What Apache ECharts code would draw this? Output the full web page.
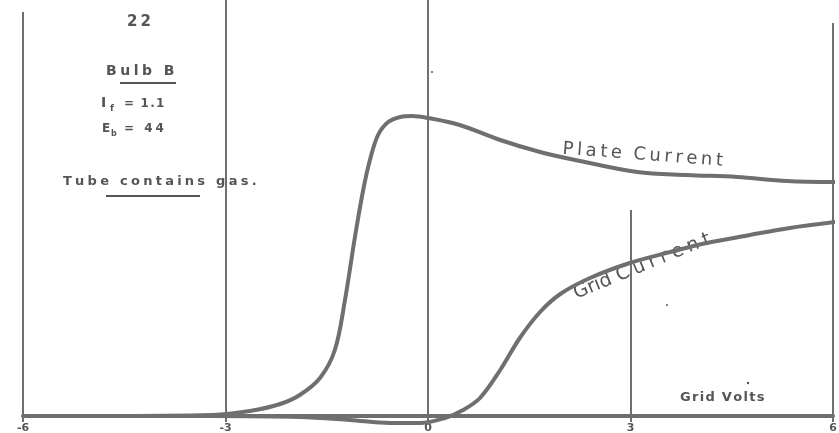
<!DOCTYPE html>
<html>
<head>
<meta charset="utf-8">
<script src="https://cdn.jsdelivr.net/npm/echarts@6/dist/echarts.min.js"></script>
<style>html,body{margin:0;padding:0;background:#fff;}#c{width:839px;height:433px;}</style>
</head>
<body>
<div id="c"></div>
<script>
// Grid Volts (x) vs current (arbitrary units, y)
const tickValues = [-6, -3, 0, 3, 6];
const tickLabels = ['-6', '-3', '0', '3', '6'];
const gridTop = [101, 104, 104, 51.5, 98.25];
const gridBottom = 0;

const plateX = [-5.96, -4.86, -3.19, -2.64, -2.19, -1.90, -1.60, -1.38, -1.23, -1.08, -0.96, -0.86, -0.74, -0.59, -0.41, -0.24, 0, 0.47, 1.07, 1.66, 2.25, 3.10, 3.84, 4.58, 5.32, 6.04];
const plateY = [0, 0, 0.25, 1.25, 3, 5.25, 9.5, 16.5, 29, 45, 56.5, 64, 70.25, 73.5, 74.75, 75, 74.5, 72.75, 69, 66, 63.75, 61, 60.25, 59.75, 58.75, 58.5];

const gridCurX = [-5.96, -3.19, -1.90, -1.16, -0.56, -0.12, 0.25, 0.52, 0.77, 1.07, 1.36, 1.66, 1.96, 2.40, 2.99, 3.59, 4.13, 4.77, 5.36, 6.04];
const gridCurY = [0, 0, -0.25, -1, -1.75, -1.75, -0.5, 1.5, 4.5, 11.5, 19.5, 26, 30.5, 34.5, 38.25, 41, 43.25, 45.25, 47, 48.5];

const ink = '#6f6f6f';
const textInk = '#555';
const hand = 'DejaVu Sans';
const sp = function (s, gap) { return s.split('').join(gap); };
const HAIR = '\u200A', THIN = '\u2009', FOUR = '\u2005', THREE = '\u2004';

const chart = echarts.init(document.getElementById('c'), null, {renderer: 'canvas'});

function zip(xs, ys) { return xs.map((x, i) => [x, ys[i]]); }

function txt(x, y, s, size, opts) {
  return Object.assign({
    type: 'text', x: x, y: y,
    style: Object.assign({text: s, fill: textInk, fontSize: size, fontFamily: hand, fontWeight: 'bold', align: 'left', verticalAlign: 'top'}, (opts && opts.style) || {})
  }, (opts && opts.el) || {});
}
function uline(x1, y1, x2, y2) {
  return {type: 'line', shape: {x1: x1, y1: y1, x2: x2, y2: y2}, style: {stroke: textInk, lineWidth: 2}};
}

chart.setOption({
  animation: false,
  backgroundColor: '#ffffff',
  grid: {left: 23, right: 6, top: 0, bottom: 17, outerBoundsMode: 'none', containLabel: false},
  xAxis: {
    type: 'value', min: -6, max: 6, interval: 3,
    axisLine: {onZero: false, lineStyle: {color: ink, width: 4}},
    axisTick: {show: true, length: 6, inside: false, lineStyle: {color: ink, width: 2}},
    splitLine: {show: false},
    axisLabel: {
      color: textInk, fontSize: 11, fontWeight: 'bold', fontFamily: hand, margin: 7,
      formatter: function (v) { const i = tickValues.indexOf(v); return i >= 0 ? tickLabels[i] : ''; }
    }
  },
  yAxis: {type: 'value', min: 0, max: 104, show: false, splitLine: {show: false}},
  series: [
    {
      type: 'line', data: [], z: 1,
      markLine: {
        silent: true, symbol: 'none', label: {show: false},
        lineStyle: {color: ink, width: 2, type: 'solid'},
        data: tickValues.map((x, i) => [{coord: [x, gridBottom]}, {coord: [x, gridTop[i]]}])
      }
    },
    {
      name: 'Plate Current', type: 'line', smooth: 0.35, showSymbol: false, z: 3, clip: false,
      lineStyle: {color: ink, width: 4}, data: zip(plateX, plateY)
    },
    {
      name: 'Grid Current', type: 'line', smooth: 0.35, showSymbol: false, z: 3, clip: false,
      lineStyle: {color: ink, width: 4}, data: zip(gridCurX, gridCurY)
    }
  ],
  graphic: [
    txt(127, 15, sp('22', THIN), 15),
    txt(106, 64, sp('Bulb B', FOUR), 14),
    uline(120, 83, 176, 83),
    txt(101, 96, 'I', 14),
    txt(110, 104, 'f', 9),
    txt(124, 98, sp('= 1.1', HAIR), 12),
    txt(102, 123, 'E', 12),
    txt(111, 130, 'b', 8),
    txt(124, 123, sp('= 44', FOUR), 12),
    txt(63, 175, sp('Tube contains gas.', FOUR), 13),
    uline(106, 196, 200, 196),
    txt(562, 158, sp('Plate', THIN) + '  ' + sp('Current', THIN), 18, {style: {verticalAlign: 'bottom', fontWeight: 'normal'}, el: {rotation: -0.075}}),
    txt(578, 303, 'Grid ' + sp('Current', FOUR), 19, {style: {verticalAlign: 'bottom', fontWeight: 'normal'}, el: {rotation: 0.39}}),
    txt(680, 391, sp('Grid Volts', HAIR), 13),
    {type: 'circle', shape: {cx: 432, cy: 72, r: 1}, style: {fill: textInk}},
    {type: 'circle', shape: {cx: 667, cy: 305, r: 1}, style: {fill: textInk}},
    {type: 'circle', shape: {cx: 748, cy: 383, r: 1.2}, style: {fill: textInk}}
  ]
});
</script>
</body>
</html>
